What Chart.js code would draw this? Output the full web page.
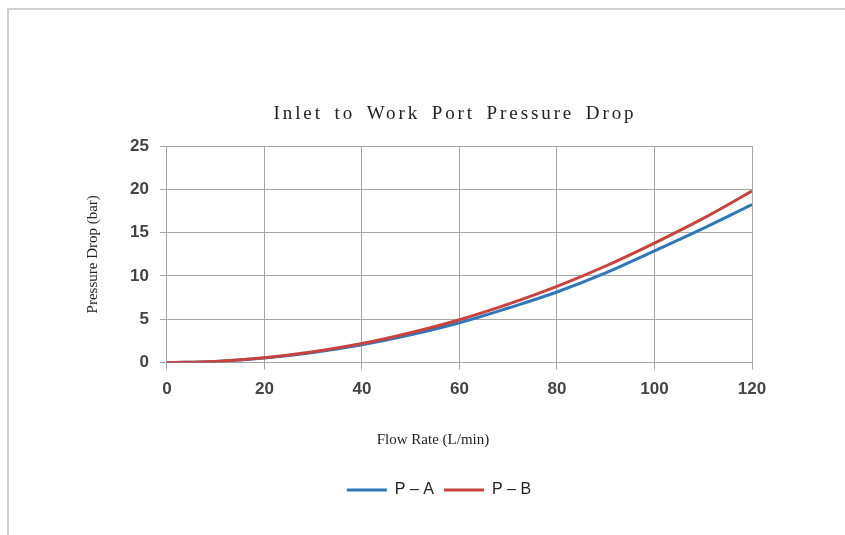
<!DOCTYPE html>
<html>
<head>
<meta charset="utf-8">
<script src="https://cdn.jsdelivr.net/npm/chart.js@4.4.1/dist/chart.umd.min.js"></script>
<style>
  html, body { margin: 0; padding: 0; background: #fff; }
  body { width: 845px; height: 535px; position: relative; overflow: hidden; }
  #frame { position: absolute; left: 7px; top: 8px; width: 860px; height: 560px;
           border-top: 2px solid #cfcfcf; border-left: 2px solid #cfcfcf; }
  #wrap { position: absolute; left: 0; top: 0; width: 845px; height: 535px; }
</style>
</head>
<body>
<div id="frame"></div>
<div id="wrap"><canvas id="myChart" width="845" height="535"></canvas></div>
<script>
const flowRates = [0, 10, 20, 30, 40, 50, 60, 70, 80, 90, 100, 110, 120];
const dropPA = [0, 0.13, 0.52, 1.16, 2.05, 3.2, 4.6, 6.3, 8.15, 10.35, 12.9, 15.5, 18.25];
const dropPB = [0, 0.14, 0.56, 1.25, 2.2, 3.45, 4.95, 6.75, 8.8, 11.15, 13.8, 16.65, 19.8];
const chartTitle = 'Inlet to Work Port Pressure Drop';
const xTitle = 'Flow Rate (L/min)';
const yTitle = 'Pressure Drop (bar)';

const gridColor = '#a6a6a6';
const tickFont = { family: '"Liberation Sans", Arial, sans-serif', size: 17, weight: 'bold' };
const serif = '"Liberation Serif", "Times New Roman", serif';

// chart title and x axis title sit off-centre, so they are drawn by hand
const titlePlugin = {
    id: 'handTitles',
    afterLayout(chart) {
        // legend block sits a bit right of the plot centre
        chart.legend.left += 21;
        chart.legend.right += 21;
    },
    afterDraw(chart) {
        const ctx = chart.ctx;
        ctx.save();
        ctx.fillStyle = '#222';
        ctx.textAlign = 'center';
        ctx.textBaseline = 'alphabetic';
        ctx.font = '19px ' + serif;
        ctx.letterSpacing = '2.9px';
        ctx.wordSpacing = '4px';
        ctx.fillText(chartTitle, 455, 119);
        ctx.letterSpacing = '0px';
        ctx.wordSpacing = '0px';
        ctx.font = '15px ' + serif;
        ctx.textBaseline = 'middle';
        ctx.fillText(xTitle, 433, 440);
        ctx.restore();
    }
};

const ctx = document.getElementById('myChart').getContext('2d');
const chart = new Chart(ctx, {
    type: 'line',
    data: {
        labels: flowRates,
        datasets: [{
            label: 'P \u2013 A',
            data: dropPA,
            borderColor: '#2f77bb',
            backgroundColor: '#2f77bb',
            borderWidth: 3,
            pointRadius: 0,
            tension: 0.4,
            order: 1
        }, {
            label: 'P \u2013 B',
            data: dropPB,
            borderColor: '#c8423e',
            backgroundColor: '#c8423e',
            borderWidth: 3,
            pointRadius: 0,
            tension: 0.4,
            order: 0
        }]
    },
    options: {
        responsive: false,
        animation: false,
        layout: { padding: { top: 146, left: 84, right: 93, bottom: 27 } },
        scales: {
            x: {
                type: 'linear',
                min: 0,
                max: 120,
                ticks: { stepSize: 20, padding: 10, color: '#444', font: tickFont },
                grid: { color: gridColor, tickLength: 7 },
                border: { color: gridColor },
                // room for the hand drawn axis title
                afterFit(scale) { scale.height += 62; }
            },
            y: {
                min: 0,
                max: 25,
                ticks: { stepSize: 5, padding: 11, color: '#444', font: tickFont },
                grid: { color: gridColor, tickLength: 7 },
                border: { color: gridColor },
                title: {
                    display: true,
                    text: yTitle,
                    color: '#222',
                    font: { family: serif, size: 15 },
                    padding: { top: 0, bottom: 17 }
                }
            }
        },
        plugins: {
            title: { display: false },
            tooltip: { enabled: false },
            legend: {
                position: 'bottom',
                labels: {
                    usePointStyle: true,
                    pointStyle: 'line',
                    pointStyleWidth: 40,
                    color: '#222',
                    font: { family: '"Liberation Sans", Arial, sans-serif', size: 16 },
                    sort: (a, b) => a.datasetIndex - b.datasetIndex
                }
            }
        }
    },
    plugins: [titlePlugin]
});
</script>
</body>
</html>
